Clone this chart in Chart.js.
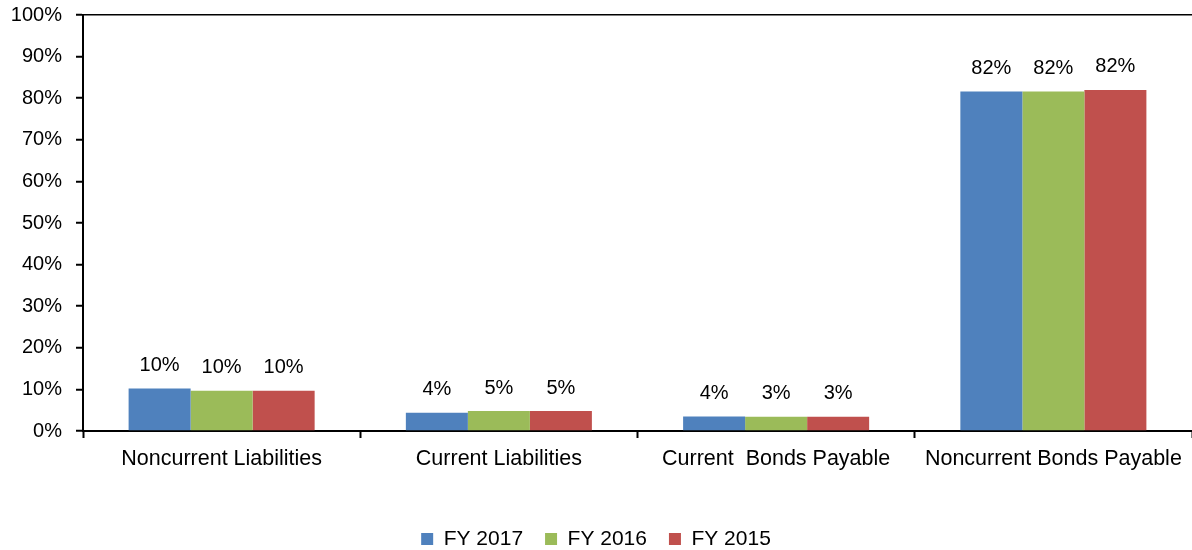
<!DOCTYPE html>
<html lang="en">
<head>
    <meta charset="UTF-8" />
    <title>Liabilities by type</title>
    <script src="https://cdn.jsdelivr.net/npm/chart.js@4"></script>
    <style>
        * {
            margin: 0;
            padding: 0;
        }

        body {
            background: #fff;
        }

        .chartBox {
            width: 1192px;
            height: 550px;
        }
    </style>
</head>
<body>
    <div class="chartBox">
        <canvas id="myChart"></canvas>
    </div>
    <script>
        // data (percent of total)
        const categories = ["Noncurrent Liabilities", "Current Liabilities", "Current  Bonds Payable", "Noncurrent Bonds Payable"];
        const seriesNames = ["FY 2017", "FY 2016", "FY 2015"];
        const fy2017 = [10.2, 4.4, 3.5, 81.6];
        const fy2016 = [9.7, 4.8, 3.4, 81.6];
        const fy2015 = [9.7, 4.8, 3.4, 82.0];
        const yMin = 0;
        const yMax = 100;
        const yStep = 10;

        const colors = ["#4F81BD", "#9BBB59", "#C0504D"];
        const fontFamily = "'Liberation Sans', Arial, Helvetica, sans-serif";

        Chart.defaults.font.family = fontFamily;
        Chart.defaults.font.size = 20;
        Chart.defaults.color = "#000";

        // value labels above each bar
        const barLabels = {
            id: "barLabels",
            afterDatasetsDraw(chart) {
                const ctx = chart.ctx;
                ctx.save();
                ctx.font = "20px " + fontFamily;
                ctx.fillStyle = "#000";
                ctx.textAlign = "center";
                ctx.textBaseline = "middle";
                chart.data.datasets.forEach((ds, i) => {
                    const meta = chart.getDatasetMeta(i);
                    meta.data.forEach((bar, j) => {
                        ctx.fillText(Math.round(ds.data[j]) + "%", bar.x, bar.y - 23);
                    });
                });
                ctx.restore();
            }
        };

        const data = {
            labels: categories,
            datasets: [
                { label: seriesNames[0], data: fy2017, backgroundColor: colors[0] },
                { label: seriesNames[1], data: fy2016, backgroundColor: colors[1] },
                { label: seriesNames[2], data: fy2015, backgroundColor: colors[2] }
            ]
        };

        const options = {
            responsive: true,
            maintainAspectRatio: false,
            animation: false,
            categoryPercentage: 0.671,
            barPercentage: 1,
            layout: {
                padding: { top: 15, right: 0, bottom: -9.5, left: 0 }
            },
            scales: {
                x: {
                    offset: true,
                    afterFit: (s) => { s.height = 75.5; s.paddingLeft = 0; s.paddingRight = 0; },
                    border: { color: "#000", width: 2 },
                    grid: {
                        offset: true,
                        drawOnChartArea: false,
                        tickColor: "#000",
                        tickLength: 7,
                        tickWidth: 2
                    },
                    ticks: {
                        padding: 8,
                        maxRotation: 0,
                        autoSkip: false,
                        font: { size: 21.5 }
                    }
                },
                y: {
                    min: yMin,
                    max: yMax,
                    afterFit: (s) => { s.width = 83; s.paddingTop = 0; s.paddingBottom = 0; },
                    border: { color: "#000", width: 2 },
                    grid: {
                        color: (c) => (c.tick && c.tick.value === yMax ? "#000" : "rgba(0,0,0,0)"),
                        lineWidth: 1.5,
                        tickColor: "#000",
                        tickLength: 7,
                        tickWidth: 2
                    },
                    ticks: {
                        stepSize: yStep,
                        padding: 14,
                        callback: (v) => v + "%"
                    }
                }
            },
            plugins: {
                legend: {
                    position: "bottom",
                    labels: {
                        boxWidth: 12,
                        boxHeight: 12,
                        padding: 22,
                        font: { size: 21 }
                    }
                },
                tooltip: { enabled: false }
            }
        };

        const ctx = document.getElementById("myChart").getContext("2d");
        const myChart = new Chart(ctx, {
            type: "bar",
            data: data,
            options: options,
            plugins: [barLabels]
        });
    </script>
</body>
</html>
